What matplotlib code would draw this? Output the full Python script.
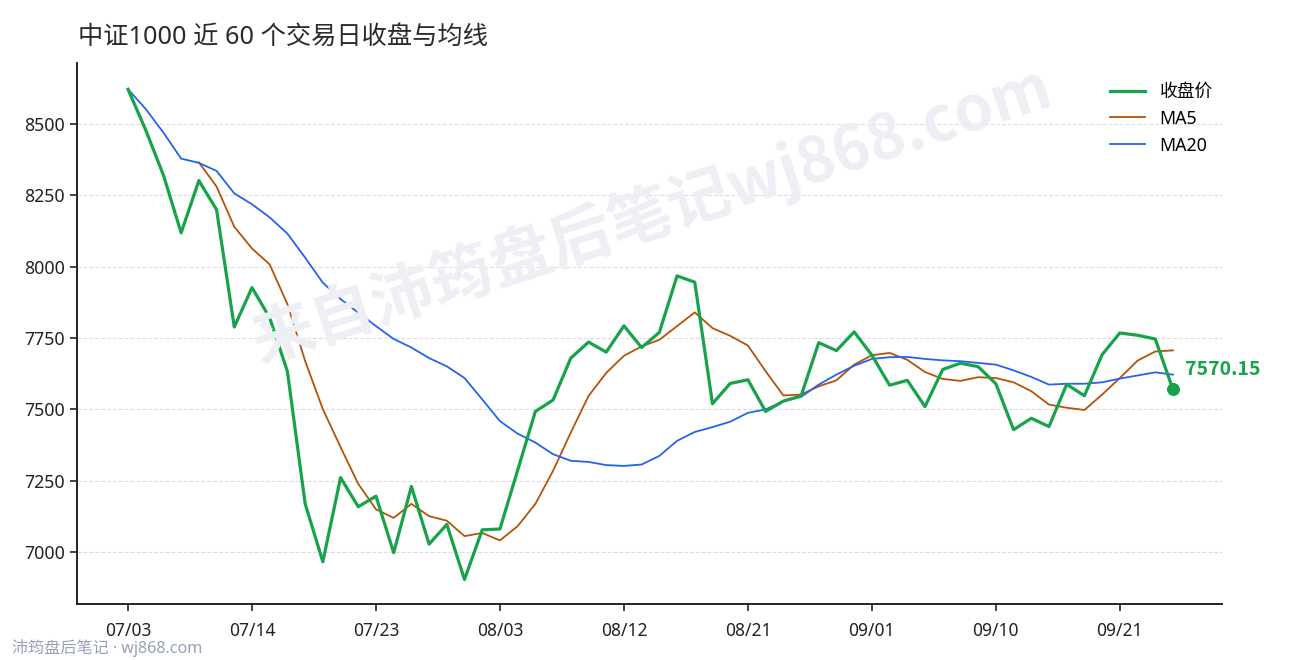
import numpy as np
import matplotlib
matplotlib.use("Agg")
import matplotlib.pyplot as plt

plt.rcParams['font.family'] = ['Noto Sans', 'Noto Sans CJK SC', 'DejaVu Sans']
BOLD_FONT = ['Noto Sans CJK SC', 'DejaVu Sans']

# 收盘价 / MA5 / MA20
close = [8622, 8479, 8321, 8119, 8302, 8200, 7789, 7927, 7821, 7633,
         7170, 6966, 7261, 7159, 7196, 6998, 7230, 7028, 7097, 6904,
         7078, 7081, 7287, 7493, 7533, 7680, 7736, 7701, 7793, 7717,
         7770, 7968, 7946, 7520, 7591, 7604, 7493, 7529, 7547, 7734,
         7706, 7772, 7690, 7585, 7602, 7510, 7640, 7662, 7650, 7590,
         7429, 7469, 7440, 7588, 7548, 7692, 7768, 7760, 7747, 7570.15]
ma5 = [np.nan] * 4 + [
    8366, 8281, 8140, 8064, 8008, 7869,
    7670, 7501, 7368, 7239, 7150, 7120, 7169, 7126, 7110, 7056,
    7067, 7041, 7091, 7169, 7285, 7419, 7547, 7628, 7688, 7721,
    7744, 7792, 7840, 7785, 7758, 7724, 7634, 7549, 7552, 7581,
    7602, 7657, 7690, 7698, 7674, 7631, 7607, 7600, 7613, 7610,
    7595, 7564, 7517, 7506, 7498, 7552, 7610, 7671, 7703, 7707]
ma20 = [8622, 8553, 8470, 8379, 8364, 8336, 8257, 8219, 8173, 8116,
        8032, 7944, 7887, 7839, 7792, 7747, 7717, 7680, 7651, 7610,
        7535, 7459, 7415, 7384, 7343, 7320, 7316, 7305, 7302, 7307,
        7337, 7390, 7421, 7438, 7457, 7488, 7500, 7529, 7544, 7587,
        7622, 7653, 7677, 7683, 7684, 7677, 7672, 7669, 7663, 7657,
        7637, 7614, 7587, 7590, 7590, 7595, 7608, 7619, 7630, 7622]
tick_labels = ['07/03', '07/14', '07/23', '08/03', '08/12', '08/21', '09/01', '09/10', '09/21']

x = np.arange(len(close))
green = '#16a34a'
orange = '#b45309'
blue = '#2563eb'

fig = plt.figure(figsize=(12.9, 6.6), dpi=100)
ax = fig.add_axes([0.0597, 0.0848, 0.8876, 0.8197])

ax.plot(x, close, color=green, lw=2.3, label='收盘价', zorder=4)
ax.plot(x, ma5, color=orange, lw=1.3, label='MA5', zorder=3)
ax.plot(x, ma20, color=blue, lw=1.3, label='MA20', zorder=3)
ax.scatter([x[-1]], [close[-1]], s=70, color=green, zorder=5)
ax.annotate(f'{close[-1]:.2f}', (x[-1], close[-1]), xytext=(9, 14),
            textcoords='offset points', color=green, fontsize=14,
            fontweight='bold', family=BOLD_FONT, va='center', ha='left')

ax.set_xlim(-2.88, 61.77)
ax.set_ylim(6818, 8714)
ax.set_xticks(x[::7])
ax.set_xticklabels(tick_labels)
ax.set_yticks(np.arange(7000, 8501, 250))
ax.tick_params(axis='y', labelsize=12.8, length=5, width=1.2, colors='#222222')
ax.tick_params(axis='x', labelsize=12.5, length=5, width=1.2, colors='#222222', pad=8)
ax.grid(axis='y', color='#dddddd', ls='--', lw=0.8)
ax.set_axisbelow(True)
for s in ['top', 'right']:
    ax.spines[s].set_visible(False)
for s in ['left', 'bottom']:
    ax.spines[s].set_linewidth(1.4)
    ax.spines[s].set_color('#222222')

ax.legend(loc='upper right', frameon=False, fontsize=12.8, handlelength=2.0,
          bbox_to_anchor=(1.006, 0.993), labelspacing=0.5)

# watermark
fig.text(0.505, 0.675, '来自沛筠盘后笔记wj868.com', fontsize=45, fontweight='bold',
         family=BOLD_FONT, color='#edeff4', rotation=18, ha='center', va='center', zorder=0)

fig.text(0.0605, 0.943, '中证1000 近 60 个交易日收盘与均线', fontsize=18.2,
         color='#2b2b2b', ha='left', va='center')
fig.text(0.009, 0.018, '沛筠盘后笔记 · wj868.com', fontsize=11.6,
         color='#94a3b8', ha='left', va='center')

fig.savefig('out.png', dpi=100)
